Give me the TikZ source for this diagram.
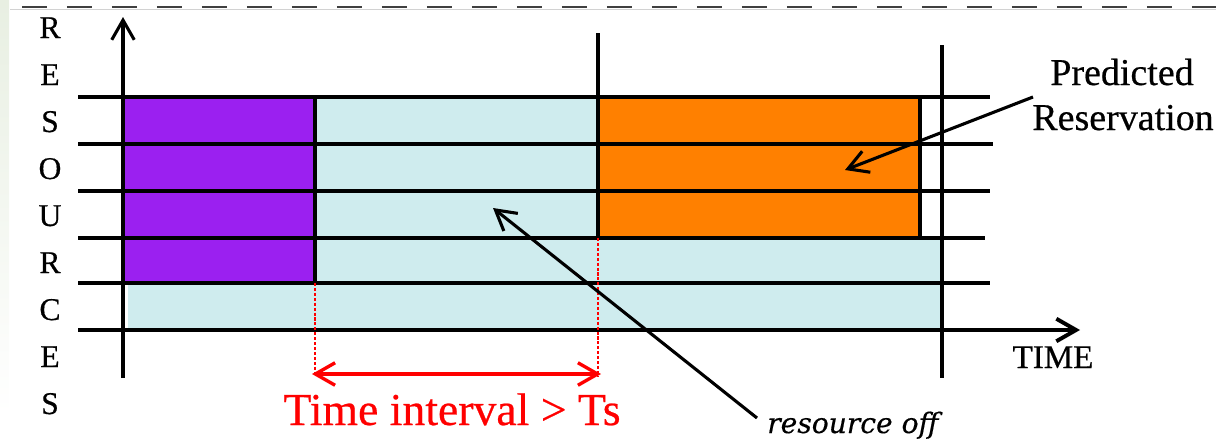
\documentclass[tikz,border=0pt]{standalone}
\usepackage{fontspec}
\setmainfont{Liberation Serif}[UprightFeatures={FakeBold=0.5}]
\newfontfamily\notefont{DejaVu Serif}[ItalicFeatures={FakeBold=0.4}]
\usetikzlibrary{arrows.meta}
\definecolor{busy}{RGB}{155,32,240}
\definecolor{predicted}{RGB}{255,128,0}
\definecolor{idle}{RGB}{207,236,238}
\definecolor{strip}{RGB}{232,239,226}
\begin{document}
\begin{tikzpicture}[
x=0.025cm,y=-0.025cm,
grid/.style={line width=2.8pt},
axis/.style={line width=2.2pt},
barb/.style={-{Straight Barb[length=14pt,width=16pt]}},
interval/.style={red,line width=1.8pt,dash pattern=on 2.2pt off 1.3pt},
letter/.style={anchor=base,font=\fontsize{22.5}{24}\selectfont},
every node/.style={inner sep=0pt}
]
\useasboundingbox (0,0) rectangle (1216,442);
\shade[top color=strip,bottom color=white] (0,0) rectangle (9,415);
\draw[gray!35,line width=0.5pt] (10,9) -- (1216,9);
\draw[black!75,line width=1.4pt,dash pattern=on 18pt off 14pt] (22,7) -- (1216,7);

% slots
\fill[idle] (315,97) rectangle (598,283);
\fill[idle] (598,238) rectangle (942,283);
\fill[idle] (128,283) rectangle (942,330);
\fill[busy] (123,97) rectangle (315,283);
\fill[predicted] (598,97) rectangle (920,238);

\foreach \y/\e in {97/990,144/993,191/990,238/985,283/990}
  \draw[grid] (78,\y) -- (\e,\y);
\draw[grid,barb] (78,330) -- (1080,330);
\draw[axis,barb] (123,378) -- (123,17);
\draw[axis] (315,97) -- (315,283);
\draw[axis] (598,33) -- (598,238);
\draw[axis] (920,97) -- (920,238);
\draw[axis] (942,45) -- (942,378);

\foreach \c [count=\i] in {R,E,S,O,U,R,C,E,S}
  \node[letter] (res\i) at (50,{38+47*(\i-1)}) {\c};

% interval
\draw[interval] (315,283) -- (315,376);
\draw[interval] (598,238) -- (598,376);
\coordinate (ts1) at (312,374);
\coordinate (ts2) at (601,374);
\draw[red,line width=2.4pt,{Straight Barb[length=14pt,width=16pt]}-{Straight Barb[length=14pt,width=16pt]}] (ts1) -- (ts2);
\node[red,anchor=base,font=\fontsize{32.5}{36}\selectfont] (tslabel) at (452,425) {Time interval > Ts};

\node[anchor=base,font=\fontsize{23.5}{26}\selectfont] (time) at (1053,368) {TIME};
\node[anchor=base,font=\fontsize{27}{30}\selectfont] (pred) at (1122,85) {Predicted};
\node[anchor=base,font=\fontsize{27}{30}\selectfont] (resv) at (1123,130) {Reservation};
\node[anchor=base west,font=\notefont\itshape\fontsize{20}{24}\selectfont] (off) at (767,433) {resource off};

\coordinate (predtail) at (1033,97);
\coordinate (predhead) at (845,170);
\coordinate (offtail) at (757,418);
\coordinate (offhead) at (493,208);
\draw[axis,barb] (predtail) -- (predhead);
\draw[axis,barb] (offtail) -- (offhead);
\end{tikzpicture}
\end{document}
